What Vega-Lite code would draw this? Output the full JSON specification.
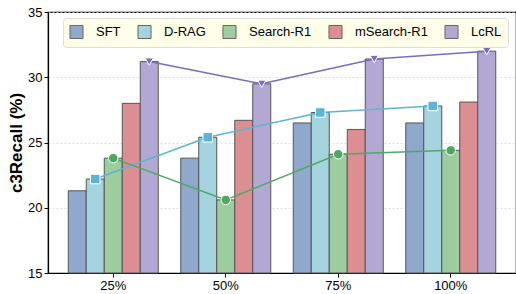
{
  "$schema": "https://vega.github.io/schema/vega-lite/v6.json",
  "width": 468,
  "height": 261,
  "autosize": "none",
  "padding": {"left": 48, "top": 12, "right": 0, "bottom": 21},
  "config": {
    "font": "Liberation Sans",
    "view": {"stroke": "#000", "strokeWidth": 1.2},
    "axis": {
      "domainColor": "#000", "domainWidth": 1.2, "tickColor": "#000", "tickSize": 4,
      "labelFontSize": 13, "labelColor": "#000", "labelPadding": 2
    }
  },
  "data": {
    "values": [
      {"pct": "25%", "method": "SFT", "value": 21.3},
      {"pct": "25%", "method": "D-RAG", "value": 22.2},
      {"pct": "25%", "method": "Search-R1", "value": 23.8},
      {"pct": "25%", "method": "mSearch-R1", "value": 28.0},
      {"pct": "25%", "method": "LcRL", "value": 31.2},
      {"pct": "50%", "method": "SFT", "value": 23.8},
      {"pct": "50%", "method": "D-RAG", "value": 25.4},
      {"pct": "50%", "method": "Search-R1", "value": 20.6},
      {"pct": "50%", "method": "mSearch-R1", "value": 26.7},
      {"pct": "50%", "method": "LcRL", "value": 29.5},
      {"pct": "75%", "method": "SFT", "value": 26.5},
      {"pct": "75%", "method": "D-RAG", "value": 27.3},
      {"pct": "75%", "method": "Search-R1", "value": 24.1},
      {"pct": "75%", "method": "mSearch-R1", "value": 26.0},
      {"pct": "75%", "method": "LcRL", "value": 31.4},
      {"pct": "100%", "method": "SFT", "value": 26.5},
      {"pct": "100%", "method": "D-RAG", "value": 27.8},
      {"pct": "100%", "method": "Search-R1", "value": 24.4},
      {"pct": "100%", "method": "mSearch-R1", "value": 28.1},
      {"pct": "100%", "method": "LcRL", "value": 32.0}
    ]
  },
  "encoding": {
    "x": {
      "field": "pct", "type": "nominal", "sort": ["25%", "50%", "75%", "100%"],
      "scale": {"paddingInner": 0.2, "paddingOuter": 0.18},
      "axis": {"title": null, "labelAngle": 0, "grid": false}
    },
    "xOffset": {
      "field": "method", "type": "nominal",
      "sort": ["SFT", "D-RAG", "Search-R1", "mSearch-R1", "LcRL"],
      "scale": {"domain": ["SFT", "D-RAG", "Search-R1", "mSearch-R1", "LcRL"], "paddingInner": 0, "paddingOuter": 0}
    },
    "y": {
      "field": "value", "type": "quantitative",
      "scale": {"domain": [15, 35], "zero": false, "nice": false},
      "axis": {
        "values": [15, 20, 25, 30, 35], "title": "c3Recall (%)",
        "titleFontSize": 17, "titleFontWeight": "bold", "titleColor": "#000", "titlePadding": 2,
        "grid": true, "gridColor": "#d8d8d8", "gridDash": [2, 2], "gridWidth": 0.8
      }
    }
  },
  "layer": [
    {
      "mark": {"type": "bar", "stroke": "#555", "strokeWidth": 1},
      "encoding": {
        "y2": {"datum": 15},
        "color": {
          "field": "method", "type": "nominal",
          "scale": {
            "domain": ["SFT", "D-RAG", "Search-R1", "mSearch-R1", "LcRL"],
            "range": ["#8fa8cc", "#a6d3e0", "#9ccca0", "#dc8f93", "#b2a8d3"]
          },
          "legend": {
            "title": null, "orient": "none", "legendX": 15, "legendY": 6,
            "direction": "horizontal", "fillColor": "#fefee9", "strokeColor": "#dddddd",
            "padding": 6, "cornerRadius": 3, "symbolType": "square", "symbolSize": 170,
            "symbolStrokeColor": "#666", "symbolStrokeWidth": 1, "symbolOpacity": 1,
            "labelFontSize": 13, "labelColor": "#000", "labelOffset": 12, "columnPadding": 14
          }
        }
      }
    },
    {
      "transform": [{"filter": "datum.method === 'LcRL'"}],
      "mark": {"type": "line", "color": "#7b6bbf", "strokeWidth": 1.5},
      "encoding": {}
    },
    {
      "transform": [{"filter": "datum.method === 'LcRL'"}],
      "mark": {"type": "point", "shape": "triangle-down", "filled": true, "fill": "#7b6bbf", "stroke": "#fff", "strokeWidth": 1, "size": 70, "opacity": 1},
      "encoding": {}
    },
    {
      "transform": [{"filter": "datum.method === 'D-RAG'"}],
      "mark": {"type": "line", "color": "#5bb5d5", "strokeWidth": 1.5},
      "encoding": {}
    },
    {
      "transform": [{"filter": "datum.method === 'D-RAG'"}],
      "mark": {"type": "point", "shape": "square", "filled": true, "fill": "#5bb5d5", "stroke": "#fff", "strokeWidth": 1, "size": 90, "opacity": 1},
      "encoding": {}
    },
    {
      "transform": [{"filter": "datum.method === 'Search-R1'"}],
      "mark": {"type": "line", "color": "#4fa862", "strokeWidth": 1.5},
      "encoding": {}
    },
    {
      "transform": [{"filter": "datum.method === 'Search-R1'"}],
      "mark": {"type": "point", "shape": "circle", "filled": true, "fill": "#4fa862", "stroke": "#fff", "strokeWidth": 1, "size": 90, "opacity": 1},
      "encoding": {}
    }
  ]
}
